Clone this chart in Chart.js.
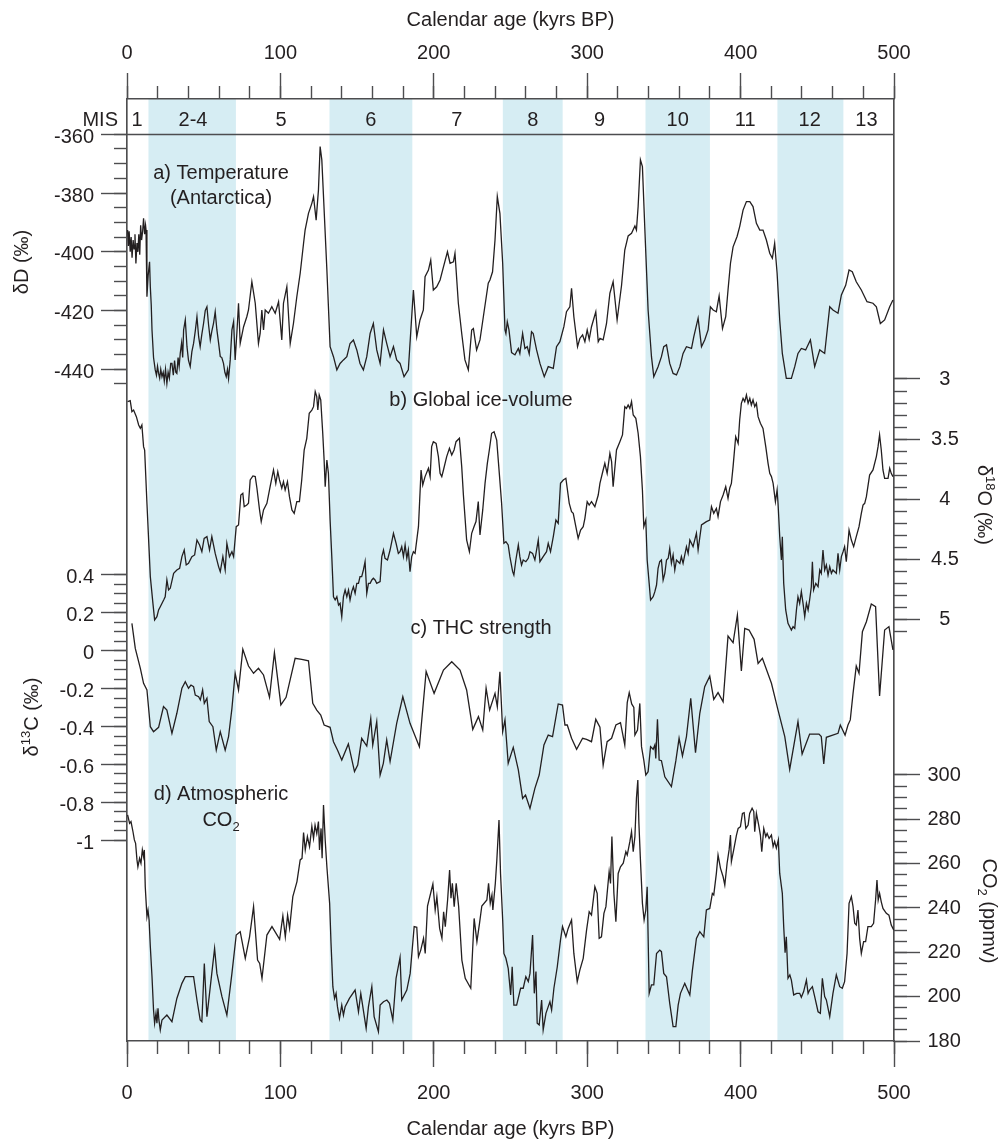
<!DOCTYPE html>
<html>
<head>
<meta charset="utf-8">
<title>Glacial cycles</title>
<script src="https://cdn.jsdelivr.net/npm/chart.js@4.4.1/dist/chart.umd.min.js"></script>
<style>
  html, body { margin: 0; padding: 0; background: #fff; }
  #wrap { width: 1002px; height: 1140px; }
</style>
</head>
<body>
<div id="wrap"><canvas id="chart" width="1002" height="1140"></canvas></div>
<script>
// ---- data: [age kyr BP, value] ----
const dDSeries = [
  [0.4,-392.6],[0.9,-398],[1.4,-393],[2.1,-400],[2.7,-395],[3.3,-402],[4.0,-396],[4.6,-399],[5.2,-394],[5.8,-404],
  [6.5,-397],[7.1,-400],[7.7,-394],[8.3,-401],[8.9,-391],[9.5,-396],[10.2,-393],[10.8,-388.6],[11.5,-394],[12.1,-391],
  [12.4,-392.6],[13.0,-415.3],[13.8,-408],[14.7,-403.4],[15.2,-411.9],[15.8,-418],[16.3,-426.6],[17.3,-436],[18.4,-440.2],[19.2,-442],
  [19.9,-439],[20.6,-441.4],[21.3,-443],[22.0,-440],[22.8,-442.5],[23.6,-441],[24.3,-444],[25.1,-440],[26.0,-444.8],[26.8,-441],
  [27.6,-443],[28.5,-438],[29.3,-438.0],[30.2,-442],[31.0,-437],[31.8,-441],[32.5,-441.4],[33.3,-436],[34.0,-439],[34.7,-434.6],
  [35.6,-431],[36.3,-436],[36.9,-426.6],[38.0,-423.2],[39.1,-432.3],[40.1,-437],[41.2,-439.1],[42.3,-434],[43.4,-431.2],[44.5,-427],
  [45.6,-422.1],[46.7,-428.9],[47.7,-432.3],[48.8,-428],[49.9,-424.4],[51.0,-420],[52.1,-418.7],[53.2,-425],[54.3,-430.0],[55.3,-427],
  [56.4,-424.4],[57.5,-420.4],[58.6,-426.6],[59.7,-431],[60.8,-435.7],[61.8,-436],[62.9,-438.0],[63.8,-441],[64.7,-442.5],[65.5,-440],
  [66.2,-443.1],[67.3,-436.8],[68.4,-426.6],[69.5,-423.8],[70.5,-436.8],[71.6,-427.8],[72.7,-417.5],[73.8,-431.2],[76.0,-425.5],[78.1,-422.1],
  [79.2,-419.8],[81.4,-410.2],[83.6,-417.5],[85.7,-431.2],[86.8,-427.8],[87.9,-419.8],[89.0,-426.6],[90.1,-419.8],[92.2,-420.9],[94.4,-418.7],
  [96.6,-420.9],[98.8,-417.0],[100.9,-430.0],[102.0,-417.5],[104.2,-411.9],[106.4,-431.2],[108.5,-424.4],[110.7,-415.3],[112.9,-407.3],[115.1,-397.1],
  [116.1,-392.6],[118.3,-386.9],[120.5,-383.5],[121.6,-381.2],[123.3,-389.2],[124.8,-379.0],[125.9,-364.2],[127.0,-368.7],[128.1,-381.2],[130.3,-406.2],
  [132.4,-432.3],[134.6,-435.7],[136.8,-440.2],[138.9,-438.0],[141.1,-436.8],[143.3,-435.7],[145.4,-431.2],[147.6,-430.0],[149.8,-433.4],[151.9,-438.0],
  [154.1,-440.2],[156.3,-435.7],[158.5,-427.8],[160.6,-424.4],[162.8,-433.4],[165.0,-438.0],[167.2,-426.6],[169.3,-431.2],[171.5,-435.7],[173.7,-432.3],
  [175.8,-436.8],[178.0,-438.0],[180.6,-442.5],[183.4,-440.2],[186.7,-413.0],[188.9,-428.9],[191.0,-423.2],[193.2,-419.8],[194.3,-408.5],[196.5,-406.2],
  [198.0,-402.8],[199.7,-413.0],[201.9,-411.9],[204.1,-409.6],[206.3,-405.1],[208.9,-400.0],[210.6,-403.9],[212.8,-403.4],[213.8,-400.5],[216.0,-417.5],
  [218.2,-427.8],[220.3,-436.8],[222.5,-440.2],[224.7,-426.6],[225.8,-426.1],[227.9,-433.4],[230.1,-430.0],[232.3,-422.1],[235.5,-410.7],[236.6,-409.6],
  [238.3,-406.8],[239.9,-396.0],[241.4,-381.2],[243.1,-386.9],[244.9,-403.9],[246.4,-426.6],[247.0,-427.8],[247.9,-423.8],[249.0,-426.6],[250.7,-434.3],
  [252.9,-435.1],[255.1,-432.9],[256.1,-434.6],[257.9,-427.8],[259.4,-432.9],[260.9,-432.3],[262.2,-434.8],[263.7,-427.2],[264.8,-427.8],[267.0,-433.4],
  [269.2,-438.0],[272.0,-442.5],[274.6,-439.1],[277.9,-439.7],[280.0,-432.3],[282.2,-430.6],[284.8,-425.5],[286.5,-420.4],[288.7,-418.7],[289.8,-412.4],
  [291.3,-422.1],[293.7,-432.3],[295.2,-429.5],[297.0,-428.3],[298.5,-430.6],[300.0,-426.6],[301.3,-429.8],[302.8,-425.5],[305.6,-420.4],[307.2,-430.6],
  [308.3,-429.5],[310.4,-430.0],[312.6,-424.4],[314.8,-414.1],[316.9,-410.2],[319.5,-423.2],[322.4,-411.4],[324.5,-399.4],[326.7,-394.6],[328.9,-393.7],
  [331.1,-391.2],[332.1,-392.6],[333.2,-384.6],[334.7,-368.7],[336.0,-371.0],[337.6,-392.6],[339.7,-419.8],[341.9,-435.7],[343.4,-442.5],[346.2,-439.1],
  [348.4,-435.7],[349.9,-432.3],[351.7,-431.7],[353.8,-438.0],[356.0,-441.4],[358.2,-441.9],[360.4,-439.1],[362.5,-434.6],[364.7,-432.3],[368.0,-432.9],
  [369.5,-428.9],[372.3,-422.6],[374.5,-432.3],[376.6,-430.0],[378.8,-426.6],[380.3,-418.7],[382.1,-419.8],[384.2,-420.4],[386.0,-415.0],[388.2,-426.1],
  [390.3,-422.1],[391.8,-413.0],[393.4,-403.9],[395.1,-398.3],[397.7,-394.8],[399.4,-391.4],[401.6,-385.8],[403.8,-382.9],[406.0,-382.9],[408.1,-384.6],
  [410.3,-390.3],[412.5,-392.6],[414.6,-392.6],[416.8,-396.0],[419.0,-400.5],[420.7,-402.2],[422.2,-397.1],[423.8,-407.3],[425.5,-423.2],[427.2,-434.6],
  [429.8,-443.1],[433.1,-443.1],[435.3,-439.1],[437.4,-434.6],[439.6,-432.9],[442.4,-433.4],[445.5,-430.0],[448.3,-439.1],[451.6,-433.4],[454.8,-434.6],
  [458.1,-418.7],[460.2,-419.8],[463.5,-420.9],[465.7,-414.7],[468.5,-411.4],[470.7,-406.2],[472.8,-406.8],[475.4,-410.2],[478.7,-413.0],[482.4,-417.0],
  [486.3,-417.5],[488.5,-418.7],[491.1,-424.4],[493.9,-423.2],[497.2,-418.7],[499.3,-416.4]
];

const d18OSeries = [
  [0.4,3.188],[2.1,3.18],[3.2,3.271],[4.3,3.258],[6.1,3.313],[7.6,3.382],[8.7,3.41],[9.7,3.382],[10.8,3.562],[11.5,3.59],
  [13.0,4.033],[15.2,4.642],[16.9,4.864],[18.0,5.002],[19.5,4.975],[20.6,4.919],[21.7,4.892],[23.9,4.836],[24.9,4.809],[26.0,4.67],
  [27.1,4.753],[28.2,4.739],[30.4,4.615],[32.5,4.587],[34.3,4.573],[35.8,4.476],[37.3,4.421],[38.6,4.545],[40.1,4.532],[42.3,4.476],
  [44.1,4.462],[45.6,4.338],[47.3,4.379],[48.8,4.435],[50.3,4.324],[52.1,4.31],[53.8,4.421],[55.3,4.31],[57.5,4.449],[59.7,4.559],
  [60.8,4.601],[62.5,4.476],[64.0,4.587],[65.1,4.365],[66.8,4.476],[68.4,4.435],[69.5,4.476],[71.2,4.227],[72.7,4.213],[74.2,3.964],
  [75.5,3.95],[76.4,4.061],[78.1,4.047],[79.2,4.033],[80.3,3.839],[82.1,3.806],[83.6,3.811],[84.7,3.908],[86.4,4.088],[87.5,4.185],
  [89.0,4.088],[91.2,4.033],[93.3,3.895],[95.5,3.756],[97.0,3.867],[98.3,3.77],[99.4,3.839],[100.9,3.908],[102.0,3.853],[103.1,3.922],
  [104.6,3.853],[105.9,3.978],[107.5,4.088],[109.0,4.116],[110.7,4.019],[112.4,4.019],[113.9,3.839],[115.5,3.59],[117.2,3.493],[118.8,3.285],
  [120.5,3.258],[121.6,3.23],[122.7,3.105],[123.7,3.147],[124.4,3.258],[125.3,3.133],[126.3,3.174],[127.6,3.451],[128.5,3.673],[129.2,3.895],
  [130.3,3.673],[131.3,3.784],[132.4,4.172],[133.5,4.476],[134.6,4.809],[135.7,4.836],[136.8,4.809],[137.9,4.878],[138.9,4.864],[140.0,4.975],
  [141.1,4.809],[142.2,4.753],[143.3,4.809],[144.4,4.753],[145.4,4.836],[146.5,4.767],[147.6,4.726],[148.7,4.781],[149.8,4.698],[150.9,4.698],
  [151.9,4.642],[153.0,4.642],[154.1,4.587],[155.2,4.518],[156.3,4.781],[157.4,4.698],[158.5,4.698],[159.6,4.67],[160.6,4.656],[161.7,4.67],
  [162.8,4.698],[165.0,4.684],[166.1,4.476],[167.2,4.421],[168.2,4.49],[169.8,4.504],[171.5,4.421],[173.7,4.282],[175.4,4.365],[176.9,4.449],
  [178.0,4.435],[179.1,4.393],[180.2,4.476],[181.3,4.379],[182.4,4.49],[183.4,4.421],[184.5,4.601],[185.6,4.476],[186.7,4.435],[187.8,4.449],
  [190.0,4.227],[191.7,3.756],[192.8,3.881],[194.3,3.811],[196.5,3.742],[197.6,3.811],[198.6,3.562],[199.7,3.521],[201.5,3.535],[203.0,3.645],
  [204.1,3.784],[205.2,3.811],[206.3,3.756],[208.4,3.645],[210.2,3.576],[211.7,3.631],[213.2,3.59],[214.5,3.521],[216.7,3.493],[218.2,3.728],
  [219.3,3.964],[221.4,4.338],[223.2,4.435],[224.7,4.282],[226.2,4.227],[227.5,4.185],[229.0,4.019],[230.1,4.296],[231.9,4.088],[233.4,3.867],
  [234.9,3.701],[236.2,3.59],[237.7,3.451],[239.3,3.438],[241.0,3.507],[242.7,3.784],[244.2,4.033],[245.7,4.365],[247.0,4.352],[248.5,4.379],
  [249.6,4.476],[251.4,4.601],[252.2,4.629],[253.5,4.504],[255.1,4.379],[256.1,4.476],[257.2,4.545],[258.3,4.504],[260.0,4.518],[261.6,4.49],
  [262.7,4.435],[264.4,4.449],[265.9,4.504],[268.1,4.338],[269.2,4.518],[271.3,4.476],[273.5,4.435],[274.6,4.365],[276.1,4.435],[277.9,4.31],
  [279.6,4.172],[281.1,4.199],[282.6,3.867],[284.4,3.839],[286.1,3.825],[288.3,4.033],[289.8,4.102],[290.9,4.116],[292.6,4.227],[294.1,4.324],
  [295.7,4.255],[297.4,4.227],[298.5,4.158],[300.0,4.019],[301.3,4.047],[302.8,4.019],[305.0,4.061],[307.2,3.964],[308.3,3.867],[310.4,3.756],
  [311.5,3.701],[313.0,3.784],[314.8,3.618],[315.9,3.687],[316.9,3.895],[319.1,3.59],[321.3,3.521],[323.0,3.465],[324.5,3.23],[325.6,3.244],
  [326.7,3.216],[327.8,3.244],[328.9,3.188],[330.0,3.299],[331.7,3.327],[333.2,3.451],[334.7,3.645],[336.0,3.922],[336.9,4.227],[338.2,4.172],
  [339.1,4.504],[340.4,4.698],[341.3,4.836],[343.0,4.809],[344.1,4.767],[345.2,4.712],[346.2,4.573],[347.3,4.518],[348.4,4.504],[349.5,4.67],
  [350.6,4.615],[351.7,4.504],[352.8,4.49],[353.8,4.407],[354.9,4.532],[356.0,4.462],[357.1,4.587],[358.2,4.504],[359.3,4.518],[360.4,4.532],
  [361.4,4.476],[362.5,4.532],[364.7,4.393],[365.8,4.449],[366.9,4.338],[369.0,4.393],[371.2,4.282],[372.3,4.421],[374.5,4.213],[377.7,4.185],
  [379.9,4.172],[381.0,4.061],[382.5,4.116],[384.2,4.075],[385.3,4.144],[386.9,4.019],[388.6,3.964],[390.3,3.895],[391.8,3.992],[392.9,3.908],
  [394.0,3.867],[395.1,3.728],[396.8,3.479],[398.4,3.535],[399.4,3.341],[400.5,3.202],[401.6,3.161],[402.7,3.188],[403.8,3.133],[404.9,3.202],
  [406.0,3.161],[407.0,3.216],[408.1,3.174],[409.2,3.23],[410.3,3.202],[411.4,3.313],[412.9,3.368],[414.6,3.41],[416.4,3.562],[417.9,3.701],
  [419.0,3.784],[420.1,3.811],[421.2,3.867],[422.7,4.019],[423.8,3.922],[424.4,4.033],[425.5,4.31],[426.6,4.504],[427.2,4.31],[428.1,4.698],
  [429.4,4.919],[430.9,5.03],[433.1,5.086],[434.2,5.058],[435.3,5.072],[436.4,4.919],[437.4,4.809],[438.5,4.864],[439.6,4.767],[440.7,4.864],
  [441.8,4.975],[442.9,4.864],[444.0,4.919],[445.0,4.836],[446.1,4.726],[446.8,4.518],[447.6,4.753],[449.0,4.698],[450.5,4.726],[451.6,4.587],
  [452.6,4.615],[453.7,4.421],[454.8,4.587],[455.9,4.545],[457.0,4.629],[458.1,4.559],[459.2,4.615],[460.2,4.587],[462.4,4.615],[463.5,4.449],
  [464.6,4.587],[465.7,4.476],[466.8,4.435],[467.8,4.393],[468.9,4.518],[470.7,4.255],[472.2,4.338],[473.7,4.393],[475.4,4.31],[477.2,4.227],
  [478.7,4.116],[479.8,4.047],[480.9,4.033],[482.0,3.978],[484.1,3.798],[486.3,3.756],[488.5,3.645],[489.6,3.562],[490.6,3.465],[491.7,3.59],
  [492.8,3.756],[493.9,3.825],[496.1,3.825],[497.2,3.742],[498.2,3.784],[499.3,3.811]
];

const d13CSeries = [
  [3.2,0.144],[5.4,0.012],[8.7,-0.093],[10.8,-0.172],[13.0,-0.207],[15.2,-0.401],[17.3,-0.427],[20.6,-0.404],[23.8,-0.295],[26.0,-0.313],
  [29.3,-0.436],[32.5,-0.33],[35.8,-0.198],[38.0,-0.163],[40.1,-0.198],[41.7,-0.181],[43.4,-0.19],[44.5,-0.234],[46.7,-0.243],[47.8,-0.26],
  [49.3,-0.207],[50.4,-0.278],[52.1,-0.251],[53.6,-0.374],[56.0,-0.401],[58.2,-0.524],[60.8,-0.427],[64.0,-0.524],[66.2,-0.453],[68.4,-0.304],
  [70.5,-0.119],[72.7,-0.207],[75.5,0.007],[79.2,-0.081],[82.5,-0.119],[85.7,-0.093],[89.0,-0.128],[92.9,-0.246],[96.1,-0.01],[100.3,-0.286],
  [103.7,-0.246],[109.6,-0.04],[113.9,-0.046],[118.3,-0.053],[121.1,-0.278],[123.7,-0.313],[126.3,-0.339],[128.5,-0.392],[132.4,-0.404],[134.6,-0.48],
  [137.2,-0.524],[140.0,-0.577],[144.3,-0.492],[148.3,-0.638],[150.4,-0.603],[153.0,-0.462],[156.3,-0.503],[158.9,-0.357],[160.2,-0.498],[162.8,-0.374],
  [165.0,-0.656],[167.1,-0.594],[169.3,-0.471],[171.5,-0.585],[175.8,-0.383],[179.8,-0.243],[184.5,-0.383],[190.6,-0.506],[195.0,-0.11],[200.2,-0.225],
  [206.3,-0.102],[211.7,-0.058],[217.1,-0.102],[221.4,-0.207],[225.4,-0.415],[229.1,-0.348],[231.9,-0.418],[234.1,-0.198],[236.4,-0.313],[239.9,-0.225],
  [241.4,-0.295],[243.1,-0.111],[244.9,-0.427],[246.4,-0.365],[248.5,-0.594],[251.8,-0.51],[255.1,-0.629],[257.9,-0.779],[259.8,-0.761],[262.7,-0.832],
  [265.9,-0.726],[268.7,-0.656],[271.8,-0.497],[274.6,-0.445],[277.4,-0.453],[281.1,-0.281],[283.9,-0.287],[285.5,-0.392],[287.0,-0.392],[289.8,-0.462],
  [293.1,-0.52],[297.0,-0.462],[299.6,-0.468],[302.8,-0.48],[305.6,-0.362],[308.3,-0.404],[310.4,-0.603],[313.0,-0.48],[315.9,-0.462],[318.7,-0.392],
  [321.7,-0.38],[324.5,-0.497],[326.1,-0.274],[327.4,-0.221],[329.0,-0.281],[330.4,-0.299],[331.1,-0.445],[332.8,-0.418],[334.3,-0.278],[335.4,-0.506],
  [336.9,-0.577],[338.2,-0.656],[339.7,-0.638],[341.3,-0.506],[343.0,-0.52],[344.1,-0.497],[344.7,-0.568],[345.8,-0.362],[346.9,-0.577],[348.4,-0.58],
  [350.6,-0.665],[354.9,-0.717],[357.8,-0.58],[359.9,-0.462],[362.1,-0.555],[364.7,-0.453],[367.5,-0.251],[370.6,-0.538],[373.4,-0.33],[376.6,-0.19],
  [379.9,-0.134],[382.5,-0.257],[385.3,-0.221],[388.6,-0.269],[391.8,0.077],[395.1,0.042],[397.9,0.188],[400.5,-0.107],[402.7,0.118],[405.5,0.109],
  [408.8,0.06],[411.4,-0.067],[414.2,-0.04],[420.1,-0.172],[424.4,-0.313],[428.8,-0.453],[432.0,-0.626],[437.4,-0.374],[440.1,-0.545],[445.0,-0.44],
  [451.1,-0.44],[452.6,-0.453],[454.2,-0.597],[455.9,-0.457],[463.5,-0.436],[465.0,-0.392],[468.1,-0.445],[470.0,-0.392],[471.5,-0.365],[473.3,-0.225],
  [475.4,-0.081],[477.2,-0.119],[479.4,0.1],[482.0,0.153],[485.2,0.246],[488.0,0.232],[490.6,-0.239],[493.9,0.109],[496.7,0.127],[499.3,0.004]
];

const co2Series = [
  [0.4,282],[1.7,278.2],[2.6,279],[3.9,274.4],[4.8,270.7],[5.6,269.2],[6.5,261.7],[7.1,258.6],[8.2,262.4],[9.1,260.2],
  [10.0,266.2],[10.8,263.2],[11.3,266.2],[11.9,249.6],[13.0,236.1],[13.7,239],[14.4,234.6],[15.2,222.6],[16.3,209],[17.3,194],
  [18.0,188],[18.9,192.5],[19.5,188],[20.2,194.7],[20.8,189.5],[21.7,185],[22.8,189.5],[26.0,191.7],[29.3,188.7],[32.5,199.2],
  [35.8,206],[38.0,209],[43.4,209],[45.6,198.5],[47.7,189.5],[48.8,188.7],[50.4,215],[52.1,191],[54.3,204.5],[57.1,221.8],
  [58.6,210.5],[61.9,200],[65.1,191.7],[68.4,210.5],[71.2,227.8],[73.8,229.3],[77.1,217.3],[79.9,227],[82.5,240.6],[85.1,216.5],
  [86.5,215],[88.0,208.3],[91.2,227.8],[94.5,231.6],[99.5,225.9],[101.6,236.4],[103.2,227],[104.7,236.8],[106.0,230.8],[108.1,245.1],
  [110.8,251.9],[112.9,261.7],[114.1,262.4],[115.1,274],[116.2,266.2],[117.6,272.2],[119.0,267.7],[120.5,276.8],[121.6,271.4],[122.6,277.4],
  [123.7,273.6],[124.8,279],[125.5,266.2],[126.5,275.9],[127.2,262.4],[128.1,286.5],[129.2,270.7],[130.3,258.6],[132.1,242.1],[133.0,224.1],
  [134.2,204.5],[135.3,199.2],[136.3,201.5],[137.2,195.5],[138.5,190.2],[140.0,196.2],[141.1,191.7],[142.2,195.5],[145.0,199.2],[148.7,203],
  [150.9,193.2],[152.4,201.5],[155.9,185.7],[157.4,195.5],[159.6,204.5],[161.1,191],[163.9,184.2],[165.0,196.2],[167.2,197.7],[169.4,198.5],
  [171.1,197],[173.3,189.5],[175.4,208.3],[178.0,217.7],[179.1,198.5],[182.4,203],[184.6,210.5],[187.2,231.6],[188.9,231.3],[190.0,218],
  [191.5,221],[193.3,226.3],[194.4,219.5],[195.9,240.9],[199.4,250.8],[200.9,239.1],[202.0,245.1],[203.8,230.8],[205.3,226.3],[206.4,238.3],
  [207.5,231.6],[209.0,243.6],[210.3,257.1],[211.2,244.4],[212.1,251.1],[213.3,240.6],[214.6,251.1],[216.2,240.6],[218.3,216.5],[220.5,208.3],
  [224.1,203.8],[226.3,235.3],[228.1,224.8],[229.8,233.1],[231.3,240.9],[234.6,243.6],[235.7,251.1],[236.8,242.1],[237.9,245.9],[238.5,239.1],
  [240.1,251.1],[241.1,261.7],[242.5,279.7],[243.5,255.6],[244.9,234.6],[245.7,219.5],[247.0,217.3],[248.5,212.8],[250.1,200.8],[251.1,213.5],
  [252.2,196.2],[254.0,196.2],[256.6,203.8],[258.3,203.8],[260.0,209],[261.6,206.8],[262.7,210.5],[264.4,227.8],[265.5,201.5],[266.6,211.3],
  [267.4,188],[268.7,187.2],[270.3,198.5],[271.3,185],[273.1,192.5],[274.6,195.5],[275.7,197.7],[276.8,194],[278.3,203.8],[280.5,213.5],
  [282.6,225.6],[283.9,231.6],[286.1,227],[287.6,230.8],[289.8,234.6],[291.3,219.5],[293.5,206.8],[295.2,212],[297.4,217.3],[299.6,230.1],
  [301.3,238.3],[302.8,236.8],[305.0,249.6],[306.5,246.6],[307.8,226.3],[309.3,227],[310.9,237.6],[312.2,240.6],[314.3,256.4],[315.2,251.1],
  [316.1,272.2],[317.4,246.6],[318.7,233.8],[320.2,255.6],[321.7,258.6],[323.5,260.2],[325.2,265.4],[326.1,263.9],[327.8,269.9],[328.9,274.4],
  [330.0,265.4],[331.1,272.2],[332.1,289.5],[333.0,297.7],[333.7,278.2],[334.7,261.7],[336.0,242.1],[337.1,234.6],[338.2,239.1],[339.1,249.6],
  [340.4,201.5],[341.9,205.3],[343.4,205.3],[345.2,219.5],[347.3,221],[348.4,220.3],[349.9,210.5],[351.7,209],[353.8,197],[356.0,186.5],
  [357.8,186.5],[359.3,196.2],[360.8,201.5],[363.6,206],[366.9,200.8],[368.6,212],[371.2,226.3],[373.4,229.3],[376.0,227],[377.7,239.1],
  [379.9,239.8],[381.6,246.6],[382.5,245.9],[384.2,255.6],[385.3,263.9],[386.9,257.9],[388.6,254.1],[389.7,250.4],[391.2,260.2],[392.5,266.2],
  [393.4,272.9],[394.0,260.9],[395.5,266.2],[397.3,272.9],[398.4,275.9],[399.9,276.7],[401.2,282.7],[402.3,283],[403.4,275.9],[404.9,277.4],
  [405.9,282.7],[407.5,285],[408.6,283.5],[409.2,274.4],[410.3,282.7],[411.8,277.4],[412.9,272.9],[413.8,265.4],[415.1,275.9],[416.4,272.2],
  [417.3,273.6],[418.6,271.4],[420.1,272.9],[421.2,267.7],[422.2,270],[423.3,267],[424.6,270.7],[425.5,255.6],[427.2,246.6],[428.1,231.6],
  [429.0,219.8],[429.8,227],[430.9,208.3],[432.1,209.8],[433.1,207.5],[434.6,200.8],[436.6,201.5],[438.5,201.5],[439.6,199.7],[441.1,202.3],
  [442.9,207.5],[444.0,201.5],[445.0,203],[446.8,204.5],[448.3,200],[450.5,193.2],[452.0,192.5],[453.3,208.3],[454.8,200],[455.9,198.5],
  [458.1,191],[460.2,201.5],[462.4,209.8],[464.6,204.5],[466.3,203.8],[467.8,206.8],[469.4,219.5],[470.7,242.1],[472.2,245.1],[473.3,240.6],
  [474.4,233.1],[475.4,232.3],[476.5,239.1],[477.6,226.3],[478.7,219.5],[480.2,224.8],[481.5,224.8],[483.0,231.6],[485.2,231.6],[486.7,233.1],
  [488.0,243.6],[488.9,252.6],[489.7,243.6],[490.6,246.6],[491.7,242.8],[492.8,239.8],[495.0,237.6],[496.7,236.8],[498.2,232.3],[499.8,230.1]
];

// marine isotope stages (glacial bands shaded)
const misBands = [[14, 71], [132, 186], [245, 284], [338, 380], [424, 467]];
const misLabels = ['1', '2-4', '5', '6', '7', '8', '9', '10', '11', '12', '13'];
const misCenters = [6.5, 43, 100.5, 159, 215, 264.5, 308, 359, 403, 445, 482];

// tick values and labels
const ageTicks = [0, 100, 200, 300, 400, 500];
const ageLabels = ['0', '100', '200', '300', '400', '500'];
const dDTicks = [-440, -420, -400, -380, -360];
const dDLabels = ['-440', '-420', '-400', '-380', '-360'];
const d18OTicks = [3, 3.5, 4, 4.5, 5];
const d18OLabels = ['3', '3.5', '4', '4.5', '5'];
const d13CTicks = [-1, -0.8, -0.6, -0.4, -0.2, 0, 0.2, 0.4];
const d13CLabels = ['-1', '-0.8', '-0.6', '-0.4', '-0.2', '0', '0.2', '0.4'];
const co2Ticks = [180, 200, 220, 240, 260, 280, 300];
const co2Labels = ['180', '200', '220', '240', '260', '280', '300'];

const range = (from, to, step) => {
  const out = [];
  for (let i = 0; from + i * step <= to + 1e-9; i++) out.push(+(from + i * step).toFixed(4));
  return out;
};

const INK = '#231f20';
const AXIS = '#4d4d4f';
const BAND = '#d6edf3';
const FAMILY = "'Liberation Sans', Arial, Helvetica, sans-serif";
const FONT = { family: FAMILY, size: 20 };

const toPoints = series => series.map(([x, y]) => ({ x, y }));

function xAxis(pos, values, labels, tickLen, padding) {
  return {
    type: 'linear', axis: 'x', position: pos, min: 0, max: 500, bounds: 'data',
    afterBuildTicks: s => { s.ticks = values.map(v => ({ value: v })); },
    afterFit: s => { s.height = 0; },
    grid: { drawOnChartArea: false, drawTicks: true, tickLength: tickLen, tickColor: AXIS, tickWidth: 1.4 },
    border: { display: !!labels, color: AXIS, width: 1.4 },
    ticks: {
      display: !!labels, autoSkip: false, maxRotation: 0, padding: padding || 0,
      font: FONT, color: INK, callback: (v, i) => labels ? labels[i] : ''
    }
  };
}

function yAxis(pos, min, max, values, labels, tickLen, extra) {
  extra = extra || {};
  return {
    type: 'linear', axis: 'y', position: pos, min, max, bounds: 'data', reverse: !!extra.reverse,
    afterBuildTicks: s => { s.ticks = values.map(v => ({ value: v })); },
    afterFit: s => { s.width = 0; },
    grid: { drawOnChartArea: false, drawTicks: true, tickLength: tickLen, tickColor: AXIS, tickWidth: 1.4 },
    border: { display: !!labels, color: AXIS, width: 1.4 },
    ticks: {
      display: !!labels, autoSkip: false, padding: extra.padding || 7,
      crossAlign: extra.crossAlign || 'near', labelOffset: extra.labelOffset || 0,
      font: FONT, color: INK, callback: (v, i) => labels ? labels[i] : ''
    }
  };
}

// axis boxes get zero size during layout, then are moved outside the plot area
const placeAxes = {
  id: 'placeAxes',
  afterLayout(chart) {
    const a = chart.chartArea;
    Object.values(chart.scales).forEach(s => {
      const p = s.options.position;
      if (p === 'left') { s.left = 0; s.right = a.left; s.width = a.left; }
      else if (p === 'right') { s.left = a.right; s.right = chart.width; s.width = chart.width - a.right; }
      else if (p === 'top') { s.top = 0; s.bottom = a.top; s.height = a.top; }
      else if (p === 'bottom') { s.top = a.bottom; s.bottom = chart.height; s.height = chart.height - a.bottom; }
    });
  }
};

// text made of parts, some raised or lowered
function richText(ctx, parts, x, y, rot) {
  ctx.save();
  ctx.translate(x, y);
  ctx.rotate(rot);
  ctx.textBaseline = 'alphabetic';
  ctx.textAlign = 'left';
  ctx.fillStyle = INK;
  const fontOf = p => (p.sup || p.sub ? '13px ' : '20px ') + FAMILY;
  const widths = parts.map(p => { ctx.font = fontOf(p); return ctx.measureText(p.t).width; });
  let cx = -widths.reduce((s, w) => s + w, 0) / 2;
  parts.forEach((p, i) => {
    ctx.font = fontOf(p);
    ctx.fillText(p.t, cx, p.sup ? -8 : p.sub ? 5 : 0);
    cx += widths[i];
  });
  ctx.restore();
}

const decorations = {
  id: 'decorations',
  beforeDraw(chart) {
    const { ctx, chartArea: a, scales } = chart;
    ctx.save();
    ctx.fillStyle = BAND;
    misBands.forEach(([s, e]) => {
      const x0 = scales.x.getPixelForValue(s);
      const x1 = scales.x.getPixelForValue(e);
      ctx.fillRect(x0, a.top, x1 - x0, a.bottom - a.top);
    });
    ctx.restore();
  },
  afterDraw(chart) {
    const { ctx, chartArea: a, scales } = chart;
    ctx.save();
    // bottom line of the MIS row
    const yRow = Math.round(scales.yD.getPixelForValue(-360)) + 0.5;
    ctx.strokeStyle = AXIS;
    ctx.lineWidth = 1.4;
    ctx.beginPath();
    ctx.moveTo(a.left, yRow);
    ctx.lineTo(a.right, yRow);
    ctx.stroke();

    ctx.fillStyle = INK;
    ctx.font = '20px ' + FAMILY;
    ctx.textBaseline = 'alphabetic';
    ctx.textAlign = 'center';
    misLabels.forEach((t, i) => ctx.fillText(t, scales.x.getPixelForValue(misCenters[i]), 126));
    ctx.textAlign = 'right';
    ctx.fillText('MIS', 118, 126);

    // x axis titles
    ctx.textAlign = 'center';
    const xMid = (a.left + a.right) / 2;
    ctx.fillText('Calendar age (kyrs BP)', xMid, 26);
    ctx.fillText('Calendar age (kyrs BP)', xMid, 1135);

    // panel labels
    ctx.fillText('a) Temperature', 221, 179);
    ctx.fillText('(Antarctica)', 221, 204);
    ctx.fillText('b) Global ice-volume', 481, 406);
    ctx.fillText('c) THC strength', 481, 634);
    ctx.fillText('d) Atmospheric', 221, 800);
    ctx.restore();
    richText(ctx, [{ t: 'CO' }, { t: '2', sub: true }], 221, 826, 0);

    // y axis titles
    richText(ctx, [{ t: 'δD (‰)' }], 28, 262, -Math.PI / 2);
    richText(ctx, [{ t: 'δ' }, { t: '13', sup: true }, { t: 'C (‰)' }], 38, 717, -Math.PI / 2);
    richText(ctx, [{ t: 'δ' }, { t: '18', sup: true }, { t: 'O (‰)' }], 978, 505, Math.PI / 2);
    richText(ctx, [{ t: 'CO' }, { t: '2', sub: true }, { t: ' (ppmv)' }], 983, 911, Math.PI / 2);
  }
};

const lineStyle = { showLine: true, pointRadius: 0, borderColor: INK, borderWidth: 1.3, fill: false };

new Chart(document.getElementById('chart'), {
  type: 'scatter',
  data: {
    datasets: [
      { ...lineStyle, label: 'δD', data: toPoints(dDSeries), xAxisID: 'x', yAxisID: 'yD' },
      { ...lineStyle, label: 'δ18O', data: toPoints(d18OSeries), xAxisID: 'x', yAxisID: 'yO' },
      { ...lineStyle, label: 'δ13C', data: toPoints(d13CSeries), xAxisID: 'x', yAxisID: 'yC' },
      { ...lineStyle, label: 'CO2', data: toPoints(co2Series), xAxisID: 'x', yAxisID: 'yCO2' }
    ]
  },
  options: {
    responsive: false,
    animation: false,
    devicePixelRatio: 1,
    layout: { padding: { left: 127, right: 108, top: 99, bottom: 99 } },
    plugins: { legend: { display: false }, tooltip: { enabled: false } },
    scales: {
      x: xAxis('bottom', ageTicks, ageLabels, 26, 14),
      xMinor: xAxis('bottom', range(0, 500, 20), null, 13),
      xTop: xAxis('top', ageTicks, ageLabels, 26, 8),
      xTopMinor: xAxis('top', range(0, 500, 20), null, 13),
      yD: yAxis('left', -668.66, -347.98, dDTicks, dDLabels, 26, { labelOffset: 3 }),
      yDMinor: yAxis('left', -668.66, -347.98, range(-445, -360, 5), null, 13),
      yC: yAxis('left', -2.0586, 2.9098, d13CTicks, d13CLabels, 26, { labelOffset: 3 }),
      yCMinor: yAxis('left', -2.0586, 2.9098, range(-1, 0.4, 0.05), null, 13),
      yO: yAxis('right', 0.6735, 8.5007, d18OTicks, d18OLabels, 26, { reverse: true, crossAlign: 'center', padding: 11 }),
      yOMinor: yAxis('right', 0.6735, 8.5007, range(3, 5.1, 0.1), null, 13, { reverse: true }),
      yCO2: yAxis('right', 180, 604.96, co2Ticks, co2Labels, 26, { crossAlign: 'center', padding: 7.5 }),
      yCO2Minor: yAxis('right', 180, 604.96, range(180, 300, 5), null, 13)
    }
  },
  plugins: [placeAxes, decorations]
});
</script>
</body>
</html>
